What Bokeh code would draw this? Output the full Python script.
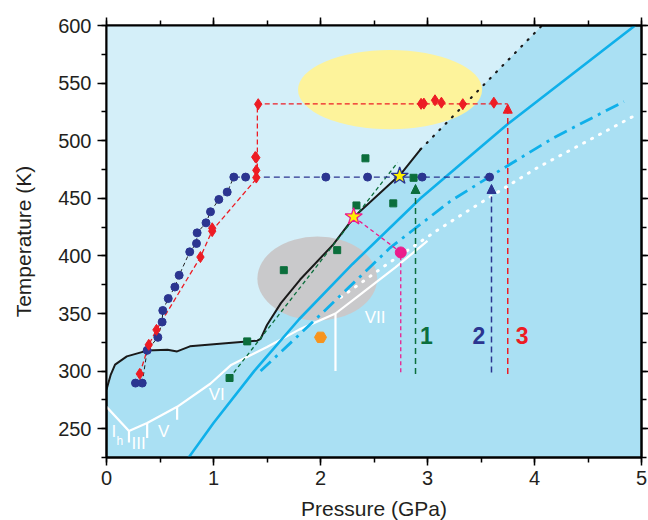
from bokeh.plotting import figure
from bokeh.models import (Range1d, SingleIntervalTicker, LinearAxis, Arrow, NormalHead,
                          CustomLabelingPolicy)
from bokeh.core.properties import value
from bokeh.embed import file_html
from bokeh.resources import INLINE

# ---------------- data ----------------
# melting line (black, solid) and its extrapolation (black dotted)
melt_P = [0, 0.04, 0.08, 0.19, 0.38, 0.57, 0.66, 0.78, 1.03, 1.41, 1.44, 1.50, 1.63, 1.81, 2.12, 2.32, 2.75, 2.935]
melt_T = [284, 297, 305.6, 312.8, 317.8, 318.6, 317.1, 321.5, 323.5, 326.4, 328, 340, 359, 379.5, 410, 434.5, 471, 492.5]
melt_ext_P = [2.935, 4.07]
melt_ext_T = [492.5, 600]

# cyan lines
cyan_solid_P = [0.76, 1.0, 1.38, 1.8, 2.3, 2.935, 3.745, 4.94]
cyan_solid_T = [224, 255, 300, 345, 393, 450, 514, 600]
cyan_dd_P = [1.44, 2.0, 2.65, 3.215, 3.59, 4.18, 4.835]
cyan_dd_T = [300, 349, 407, 447.6, 469.3, 502.6, 534]

# white ice boundaries
white_P = [0, 0.21, 0.38, 0.66, 0.97, 1.16, 1.5, 1.8, 2.14, 2.37, 2.7, 3.0]
white_T = [269, 248, 255, 269, 289, 305, 321, 336, 350, 366.4, 390, 413]
white_dot_P = [2.19, 2.61, 3.12, 3.65, 4.025, 4.48, 4.96]
white_dot_T = [364, 392, 424, 455, 476.5, 499, 523]
tick_P = [0.21, 0.38, 0.66, 2.14]
tick_T0 = [248, 255, 269.3, 350]
tick_T1 = [238, 242, 257.7, 300]
ice_labels = ["I", "III", "V", "VI", "VII"]
ice_label_P = [0.068, 0.30, 0.535, 1.03, 2.51]
ice_label_T = [247.6, 237.4, 247.6, 279.5, 346.5]
sub_label = "h"
sub_P, sub_T = 0.124, 239.5

# ellipses
yellow_ell = dict(P=2.65, T=544.3, w=1.72, h=68.7)
grey_ell = dict(P=1.97, T=380.4, w=1.12, h=73)

# blue series
blue_P = [0.271, 0.334, 0.38, 0.48, 0.52, 0.526, 0.577, 0.639, 0.679, 0.778, 0.841, 0.847,
          0.93, 0.972, 1.05, 1.128, 1.19, 1.30, 2.05, 2.44, 2.95, 3.58]
blue_T = [289.6, 289.6, 318, 329.3, 342.6, 352.6, 363, 373, 383.2, 403.5, 410.8, 420,
          428.7, 438.3, 449, 455.4, 468.4, 468.4, 468.4, 468.4, 468.4, 468.4]
blue_path_P = [1.19, 3.59]
blue_path_T = [468.4, 468.4]
blue_star = (2.74, 469.3)

# red series
red_P = [0.311, 0.395, 0.467, 0.878, 0.988, 0.988, 1.40, 1.40, 1.39, 1.40, 1.418,
         2.94, 2.966, 3.07, 3.13, 3.33, 3.62]
red_T = [297.6, 322.8, 335.8, 399, 421.5, 424, 468, 474.3, 485.8, 485.3, 531.7,
         532, 532.2, 535.1, 533, 531.7, 533]
red_path_P = [0.311, 0.395, 0.467, 0.878, 0.988, 1.41, 1.41, 3.75]
red_path_T = [297.6, 322.8, 335.8, 399, 422, 468, 532, 532]

# green series
green_P = [1.15, 1.315, 1.657, 2.156, 2.336, 2.42, 2.68, 2.87]
green_T = [294, 325.8, 387.6, 405, 443.8, 484.7, 445.6, 467.8]
green_line_P = [1.15, 2.72]
green_line_T = [294, 481]

# pink
pink_star = (2.31, 434)
pink_circle = (2.75, 403)
pink_path_P = [2.31, 2.75, 2.75]
pink_path_T = [434, 403, 297.4]

# orange
orange_pt = (2.0, 329.3)

# vertical arrows: P, T start, T end
arrow_P = [2.888, 3.598, 3.75]
arrow_T0 = [297.4, 298.8, 297.4]
arrow_T1 = [462, 462, 531.7]
arrow_labels = ["1", "2", "3"]
arrow_label_P = [2.99, 3.48, 3.885]
arrow_label_T = [331, 331, 331]

# ---------------- colours ----------------
C_LIQ = "#d4eff9"
C_ICE = "#aae0f3"
C_CYAN = "#0fb0ea"
C_NAVY = "#2b3590"
C_RED = "#ed1c24"
C_GREEN = "#0b6e3c"
C_PINK = "#ec1c8c"
C_ORANGE = "#f7941d"
arrow_colors = [C_GREEN, C_NAVY, C_RED]

FONT = "Liberation Sans"

p = figure(frame_width=535, frame_height=432, output_backend="svg", toolbar_location=None,
           x_range=Range1d(0, 5), y_range=Range1d(225, 600),
           min_border_left=106, min_border_top=25, min_border_right=7, min_border_bottom=63,
           background_fill_color=C_ICE, border_fill_color="white")
p.xgrid.visible = False
p.ygrid.visible = False
p.outline_line_color = "black"
p.outline_line_width = 2

# liquid region
liq_P = [0] + melt_P + melt_ext_P[1:] + [0]
liq_T = [melt_T[0]] + melt_T + melt_ext_T[1:] + [600]
p.patch(liq_P, liq_T, fill_color=C_LIQ, line_color=None)

p.ellipse(x=[yellow_ell["P"]], y=[yellow_ell["T"]], width=[yellow_ell["w"]], height=[yellow_ell["h"]],
          fill_color="#fdf39b", line_color=None)
p.ellipse(x=[grey_ell["P"]], y=[grey_ell["T"]], width=[grey_ell["w"]], height=[grey_ell["h"]],
          fill_color="#c9c9cb", line_color=None)

# white ice boundaries
p.line(white_P, white_T, line_color="white", line_width=2.2)
p.segment(x0=tick_P, y0=tick_T0, x1=tick_P, y1=tick_T1, line_color="white", line_width=2.2)
p.line(white_dot_P, white_dot_T, line_color="white", line_width=3, line_dash="1 8", line_cap="round")
p.text(x=ice_label_P, y=ice_label_T, text=ice_labels, text_color="white", text_font=value(FONT),
       text_font_size="17px", text_align="center", text_baseline="middle")
p.text(x=[sub_P], y=[sub_T], text=[sub_label], text_color="white", text_font=value(FONT),
       text_font_size="12px", text_align="center", text_baseline="middle")

# cyan lines
p.line(cyan_solid_P, cyan_solid_T, line_color=C_CYAN, line_width=2.6)
p.line(cyan_dd_P, cyan_dd_T, line_color=C_CYAN, line_width=2.8, line_dash="14 6 3 6")

# melting line
p.line(melt_P, melt_T, line_color="#1a1a1a", line_width=2)
p.line(melt_ext_P, melt_ext_T, line_color="#1a1a1a", line_width=2.2, line_dash="1 8", line_cap="round")

# green dashed
p.line(green_line_P, green_line_T, line_color=C_GREEN, line_width=1.3, line_dash="4 3")

# blue
p.line(blue_P[1:17], blue_T[1:17], line_color="#222222", line_width=1, line_dash="4 3")
p.line(blue_path_P, blue_path_T, line_color=C_NAVY, line_width=1.4, line_dash="6 4")
# red
p.line(red_path_P, red_path_T, line_color=C_RED, line_width=1.3, line_dash="5 3")
# pink
p.line(pink_path_P, pink_path_T, line_color=C_PINK, line_width=1.3, line_dash="4 3")

# arrows
for xp, t0, t1, col in zip(arrow_P, arrow_T0, arrow_T1, arrow_colors):
    p.add_layout(Arrow(end=NormalHead(size=9, fill_color=col, line_color=col),
                       x_start=xp, y_start=t0, x_end=xp, y_end=t1,
                       line_color=col, line_width=1.5, line_dash="6 4"))

# markers
p.scatter(green_P, green_T, marker="square", size=7, fill_color=C_GREEN, line_color=C_GREEN)
p.scatter(blue_P, blue_T, marker="circle", size=8, fill_color=C_NAVY, line_color=C_NAVY)
p.scatter(red_P, red_T, marker="diamond", size=11, fill_color=C_RED, line_color=C_RED)
p.scatter([pink_circle[0]], [pink_circle[1]], marker="circle", size=11, fill_color=C_PINK, line_color=C_PINK)
p.scatter([orange_pt[0]], [orange_pt[1]], marker="hex", size=12, fill_color=C_ORANGE, line_color=C_ORANGE)
p.scatter([blue_star[0]], [blue_star[1]], marker="star", size=18, fill_color="#fff200", line_color=C_NAVY, line_width=1.3)
p.scatter([pink_star[0]], [pink_star[1]], marker="star", size=18, fill_color="#fff200", line_color=C_PINK, line_width=1.3)

p.text(x=arrow_label_P, y=arrow_label_T, text=arrow_labels, text_color=arrow_colors,
       text_font=value(FONT), text_font_size="23px", text_font_style="bold",
       text_align="center", text_baseline="middle")

# axes
hide_labels = CustomLabelingPolicy(code="""
const all = [...indices]
for (const i of all) indices.unset(i)
return indices
""")

def style_axis(ax, labels=True):
    ax.axis_line_width = 2
    ax.axis_line_color = "black"
    ax.major_tick_line_width = 1.5
    ax.minor_tick_line_width = 1.5
    ax.major_tick_in = 0
    ax.minor_tick_in = 0
    ax.major_tick_out = 9
    ax.minor_tick_out = 5
    if labels:
        ax.major_label_text_font = FONT
        ax.major_label_text_font_size = "20px"
        ax.major_label_text_color = "#231f20"
        ax.axis_label_text_font = FONT
        ax.axis_label_text_font_size = "21px"
        ax.axis_label_text_font_style = "normal"
        ax.axis_label_text_color = "#231f20"
        ax.major_label_standoff = 6
    else:
        ax.major_label_policy = hide_labels
        ax.major_label_text_font_size = "0px"
        ax.major_label_standoff = 0

p.xaxis.ticker = SingleIntervalTicker(interval=1, num_minor_ticks=2)
p.yaxis.ticker = SingleIntervalTicker(interval=50, num_minor_ticks=2)
p.xaxis.axis_label = "Pressure (GPa)"
p.yaxis.axis_label = "Temperature (K)"
style_axis(p.xaxis[0])
style_axis(p.yaxis[0])
p.xaxis[0].major_tick_out = 8
p.xaxis[0].major_label_standoff = 5
p.xaxis[0].axis_label_standoff = 9
p.yaxis[0].axis_label_standoff = 20

top = LinearAxis(ticker=SingleIntervalTicker(interval=1, num_minor_ticks=2))
right = LinearAxis(ticker=SingleIntervalTicker(interval=50, num_minor_ticks=2))
style_axis(top, labels=False)
style_axis(right, labels=False)
top.major_tick_out = 8
right.major_tick_out = 7
p.add_layout(top, "above")
p.add_layout(right, "right")

open("out.html", "w").write(file_html(p, INLINE))
